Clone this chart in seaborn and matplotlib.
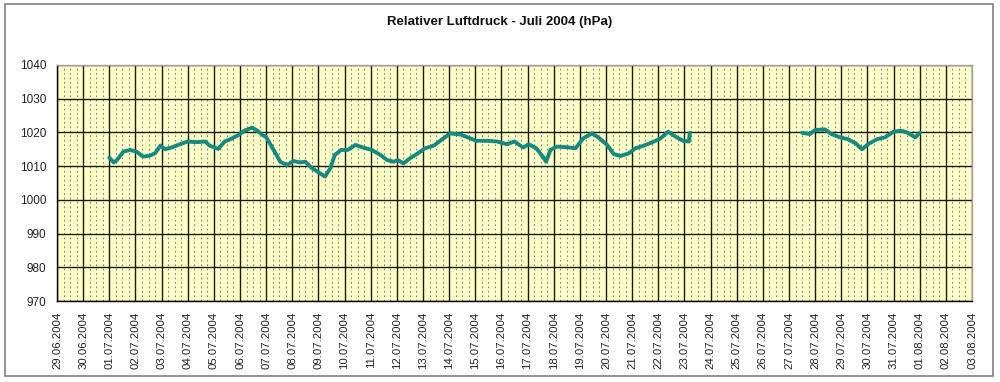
import pandas as pd
import matplotlib.pyplot as plt
import matplotlib.dates as mdates
from matplotlib.patches import Rectangle
import seaborn as sns

# Hours since 01.07.2004 00:00 and pressure (hPa)
hours_a = [0, 4, 7, 13, 19, 25, 31, 37, 42, 47, 51, 57, 65, 72, 80, 88, 92, 100,
           106, 112, 119, 124, 131, 135, 141, 144, 150, 157, 163, 169, 175, 180,
           186, 192, 198, 203, 207, 213, 219, 226, 233, 241, 249, 255, 261, 265,
           270, 276, 282, 290, 298, 305, 313, 322, 330, 337, 347, 356, 365, 372,
           380, 385, 392, 398, 401, 405, 411, 420, 428, 435, 443, 449, 457, 463,
           469, 477, 483, 490, 498, 506, 513, 521, 527, 532, 533]
press_a = [1012.5, 1011.1, 1011.8, 1014.3, 1014.8, 1014.3, 1012.8, 1013.1, 1013.8,
           1016.1, 1015.0, 1015.5, 1016.5, 1017.3, 1017.1, 1017.3, 1016.1, 1015.1,
           1017.3, 1018.1, 1019.3, 1020.5, 1021.4, 1020.7, 1019.2, 1018.6, 1015.3,
           1011.3, 1010.3, 1011.5, 1011.1, 1011.3, 1009.4, 1008.2, 1006.9, 1009.4,
           1013.3, 1014.8, 1014.8, 1016.3, 1015.5, 1014.8, 1013.3, 1011.8, 1011.3,
           1011.8, 1010.8, 1012.3, 1013.5, 1015.3, 1016.1, 1017.8, 1019.7, 1019.4,
           1018.4, 1017.5, 1017.5, 1017.3, 1016.5, 1017.3, 1015.5, 1016.5, 1015.3,
           1012.8, 1011.3, 1014.8, 1015.8, 1015.6, 1015.3, 1018.2, 1019.7, 1018.5,
           1016.3, 1013.6, 1013.0, 1013.8, 1015.3, 1016.0, 1017.0, 1018.2, 1020.2,
           1018.5, 1017.5, 1017.3, 1019.9]

hours_b = [636, 643, 648, 657, 663, 671, 678, 685, 691, 697, 705, 712, 720, 727,
           733, 740, 744]
press_b = [1019.9, 1019.5, 1020.7, 1020.9, 1019.5, 1018.5, 1018.0, 1016.8, 1015.0,
           1016.6, 1018.0, 1018.5, 1020.2, 1020.5, 1019.9, 1018.5, 1019.9]

start = pd.Timestamp("2004-07-01")
df = pd.concat([
    pd.DataFrame({"zeit": start + pd.to_timedelta(hours_a, unit="h"), "hpa": press_a, "seg": 0}),
    pd.DataFrame({"zeit": start + pd.to_timedelta(hours_b, unit="h"), "hpa": press_b, "seg": 1}),
])

sns.set_style("white")
plt.rcParams["font.family"] = ["Liberation Sans", "DejaVu Sans"]

fig = plt.figure(figsize=(10, 3.82), dpi=100)
ax = fig.add_axes([0.057, 0.212, 0.915, 0.618])
ax.set_facecolor("#ffffc8")

sns.lineplot(data=df, x="zeit", y="hpa", units="seg", estimator=None,
             color="#148a82", linewidth=2.8, ax=ax)

ax.set_xlim(pd.Timestamp("2004-06-29"), pd.Timestamp("2004-08-03"))
ax.set_ylim(970, 1040)
ax.set_yticks(range(970, 1041, 10))
ax.xaxis.set_major_locator(mdates.DayLocator())
ax.xaxis.set_major_formatter(mdates.DateFormatter("%d.%m.%Y"))
ax.xaxis.set_minor_locator(mdates.HourLocator(byhour=[6, 12, 18]))

ax.grid(which="major", color="#1a1a00", linewidth=1.0)
ax.grid(which="minor", axis="x", color="#808080", linewidth=0.8, linestyle=(0, (1.5, 2.5)))
ax.set_axisbelow(True)

ax.tick_params(axis="both", which="major", length=4, width=1, color="black",
               direction="out", labelsize=8.5, labelcolor="#222222")
ax.tick_params(axis="x", which="major", labelrotation=90, labelsize=8.2)
ax.tick_params(axis="x", which="minor", length=0)
ax.set_xlabel("")
ax.set_ylabel("")

for side in ["left", "bottom"]:
    ax.spines[side].set_color("black")
    ax.spines[side].set_linewidth(1)
for side in ["top", "right"]:
    ax.spines[side].set_color("#a0a0a0")
    ax.spines[side].set_linewidth(1)

fig.text(0.5, 0.942, "Relativer Luftdruck - Juli 2004 (hPa)", ha="center", va="center",
         fontsize=9.5, fontweight="bold", color="#111111")

fig.patches.append(Rectangle((0.005, 0.015), 0.988, 0.975, transform=fig.transFigure,
                             fill=False, edgecolor="#808080", linewidth=1.2))

fig.savefig("out.png", dpi=100)
